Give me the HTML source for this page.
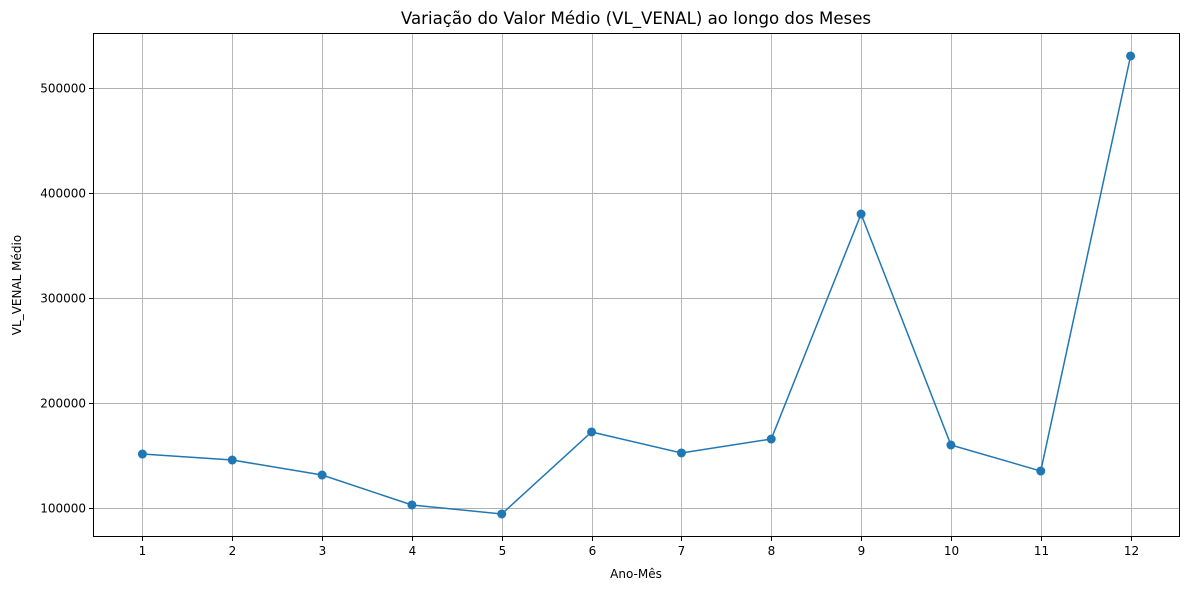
<!DOCTYPE html>
<html><head><meta charset="utf-8">
<style>
body{margin:0;background:#fff;font-family:"Liberation Sans","DejaVu Sans",sans-serif;}
svg text{font-family:"DejaVu Sans","Liberation Sans",sans-serif;}
</style></head>
<body>
<svg id="chart" width="1189" height="590" xmlns="http://www.w3.org/2000/svg">
<rect width="1189" height="590" fill="#fff"/>
<text x="636" y="24" font-size="16.6" text-anchor="middle">Variação do Valor Médio (VL_VENAL) ao longo dos Meses</text>
<text x="636" y="578" font-size="12" text-anchor="middle">Ano-Mês</text>
<text x="21" y="285" font-size="12" text-anchor="middle" transform="rotate(-90 21 285)">VL_VENAL Médio</text>
<g id="grid"></g><g id="ticks"></g><g id="series"></g>
<rect x="93.5" y="33.5" width="1086" height="503" fill="none" stroke="#000" stroke-width="1"/>
</svg>
<script>
const months = [1,2,3,4,5,6,7,8,9,10,11,12];
const values = [151400,145700,131400,102900,94300,172400,152400,165700,380000,160000,135200,530500];
const yTicks = [100000,200000,300000,400000,500000];
const L=93,R=1180,T=33,B=537;
const xs=v=>L+(v-0.45)/(12.55-0.45)*(R-L);
const ys=v=>B-(v-72380)/(552390-72380)*(B-T);
const px=v=>Math.round(v)+0.5;
const NS="http://www.w3.org/2000/svg";
const g=document.getElementById('grid'),tk=document.getElementById('ticks'),s=document.getElementById('series');
function mk(tag,attrs,parent){const e=document.createElementNS(NS,tag);for(const k in attrs)e.setAttribute(k,attrs[k]);parent.appendChild(e);return e;}
months.forEach(m=>{const x=px(xs(m));
 const gl=mk('line',{x1:x,x2:x,y1:T,y2:B,stroke:'#b0b0b0','stroke-width':0.9},g);
 
 
 mk('line',{x1:x,x2:x,y1:B,y2:B+4,stroke:'#000'},tk);
 const t=mk('text',{x:x,y:B+18,'font-size':12,'text-anchor':'middle'},tk);t.textContent=m;
 
 
});
yTicks.forEach(v=>{const y=px(ys(v));
 const gl=mk('line',{x1:L,x2:R,y1:y,y2:y,stroke:'#b0b0b0','stroke-width':0.9},g);
 
 
 mk('line',{x1:L-4,x2:L,y1:y,y2:y,stroke:'#000'},tk);
 const t=mk('text',{x:L-7,y:y+4,'font-size':12,'text-anchor':'end'},tk);t.textContent=v;
 
 
});
const pl=mk('polyline',{points:months.map((m,i)=>xs(m)+','+ys(values[i])).join(' '),fill:'none',stroke:'#1f77b4','stroke-width':1.5},s);


months.forEach((m,i)=>{const c=mk('circle',{cx:xs(m),cy:ys(values[i]),r:4.5,fill:'#1f77b4'},s);
 
 
});
</script>
</body></html>
